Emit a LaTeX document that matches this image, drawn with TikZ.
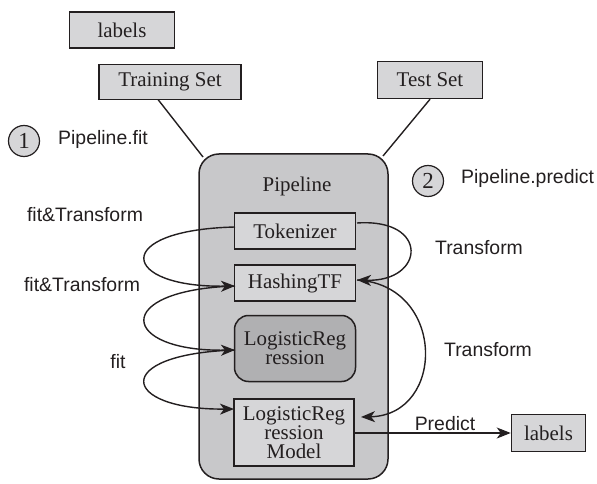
\documentclass[tikz,border=0pt]{standalone}
\usepackage{fontspec}
\setmainfont{Liberation Serif}
\newfontfamily\labfont{Liberation Sans}
\usetikzlibrary{arrows.meta}
\definecolor{ink}{HTML}{231F20}
\definecolor{boxfill}{HTML}{D6D6D8}
\definecolor{pipefill}{HTML}{C8C8CA}
\definecolor{darkfill}{HTML}{B0B0B2}
\tikzset{
  every node/.style={font=\fontsize{21}{19}\selectfont, text=ink},
  box/.style={draw=ink, line width=1.5bp, fill=boxfill, rectangle, inner sep=0pt, align=center},
  pipe/.style={draw=ink, line width=1.5bp, fill=pipefill, rounded corners=20bp},
  lbl/.style={font=\labfont\fontsize{19.5}{22}\selectfont, inner sep=0pt},
  num/.style={draw=ink, line width=1.2bp, fill=boxfill, circle, minimum size=31bp, inner sep=0pt, font=\fontsize{23}{24}\selectfont},
  conn/.style={draw=ink, line width=1.4bp},
  arr/.style={conn, -{Stealth[length=14bp, width=11bp, inset=4bp]}},
}
\begin{document}
\begin{tikzpicture}[x=1bp,y=-1bp]
\useasboundingbox (0,0) rectangle (597,484);
% pipeline container
\draw[pipe] (199,154) rectangle (388,479);
\node (pl) at (297,186) {Pipeline};
% top boxes
\node[box, minimum width=105bp, minimum height=36bp] (lab1) at (122,30) {labels};
\node[box, minimum width=142bp, minimum height=35bp] (train) at (170,82) {Training Set};
\node[box, minimum width=105bp, minimum height=37bp] (test) at (430,80) {Test Set};
\coordinate (pTL) at (203,157);
\coordinate (pTR) at (383,156);
\coordinate (ts) at (158,99.5);
\draw[conn] (ts) -- (pTL);
\draw[conn] (test.south) -- (pTR);
% numbered circles
\node[num] (c1) at (24,141) {1};
\node[lbl, anchor=west] (t1) at (58,139) {Pipeline.fit};
\node[num] (c2) at (428,181) {2};
\node[lbl, anchor=west] (t2) at (461,178) {Pipeline.predict};
% stages
\node[box, minimum width=121bp, minimum height=36bp] (tok) at (295,231) {Tokenizer};
\node[box, minimum width=121bp, minimum height=36bp] (hash) at (295,283) {HashingTF};
\node[box, fill=darkfill, rounded corners=14bp, minimum width=121bp, minimum height=66bp] (lr) at (295,348.5) {LogisticReg\\ression};
\node[box, minimum width=120bp, minimum height=67bp] (lrm) at (294,432.5) {LogisticReg\\ression\\Model};
\node[box, minimum width=74bp, minimum height=37bp] (lab2) at (548.5,433) {labels};
% left curves
\coordinate (tokW) at (235,227);
\coordinate (hashW) at (235,286);
\coordinate (lrW) at (235,350);
\coordinate (lrmW) at (234,409);
\draw[arr] (tokW) .. controls (110,230) and (120,288) .. (hashW);
\draw[arr] (hashW) .. controls (110,290) and (120,352) .. (lrW);
\draw[arr] (lrW) .. controls (110,354) and (120,410) .. (lrmW);
\node[lbl] (f1) at (85,215) {fit\&Transform};
\node[lbl] (f2) at (82,285) {fit\&Transform};
\node[lbl] (f3) at (118,362) {fit};
% right curves
\coordinate (tokE) at (357,223);
\coordinate (hashE) at (357,280);
\coordinate (lrmE) at (361,417);
\draw[arr] (tokE) .. controls (430,218) and (425,282) .. (hashE);
\draw[arr] (hashE) .. controls (446,285) and (446,415) .. (lrmE);
\node[lbl] (r1) at (479,248) {Transform};
\node[lbl] (r2) at (488,350) {Transform};
% predict
\draw[arr] (lrm.east |- lab2.west) -- (lab2.west);
\node[lbl] (pr) at (445,424) {Predict};
\end{tikzpicture}
\end{document}
